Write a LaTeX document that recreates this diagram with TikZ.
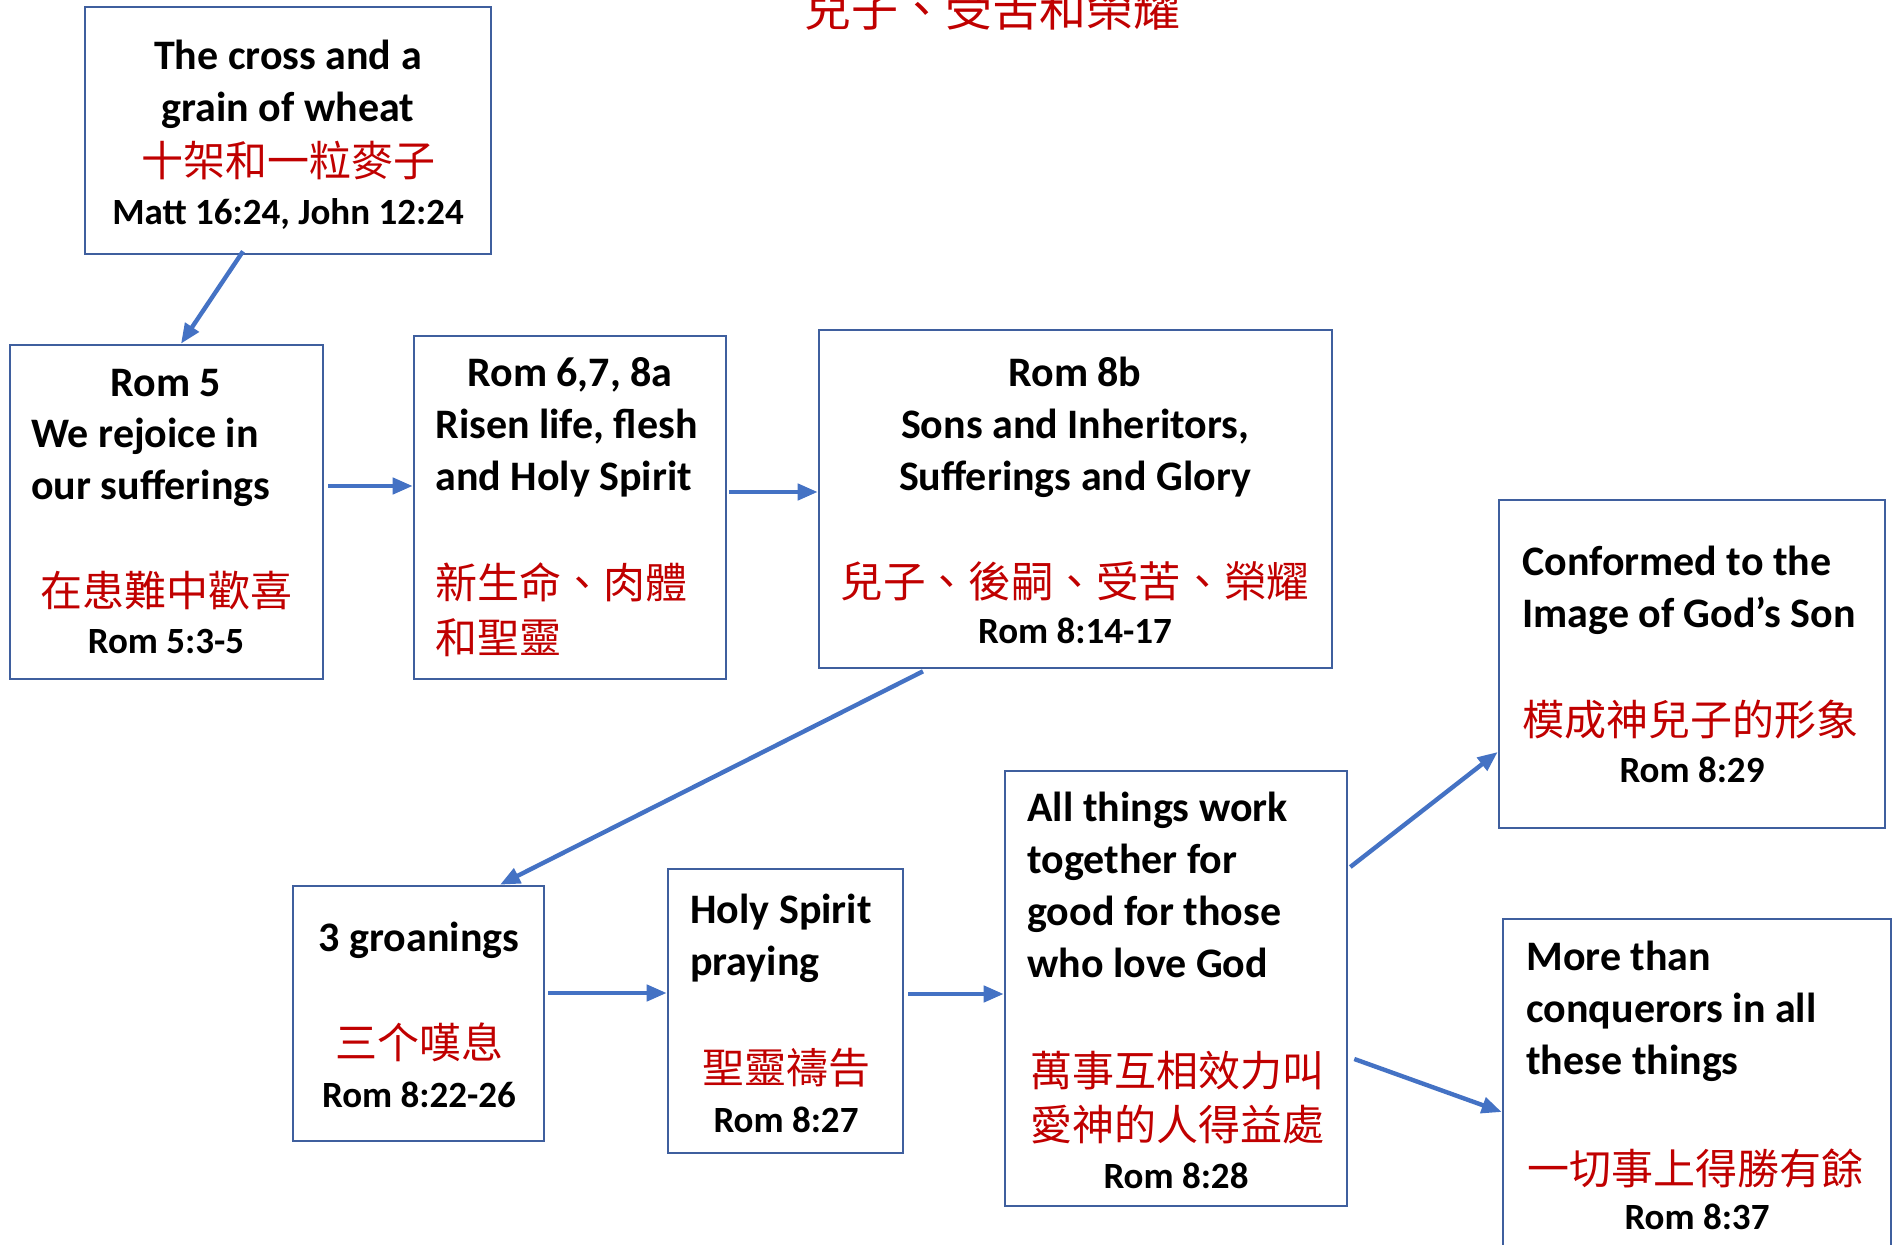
\documentclass[tikz,border=0pt]{standalone}
\usepackage{fontspec}
\setmainfont{Carlito}
\newfontfamily\cjk{Noto Sans CJK TC}
\usetikzlibrary{arrows.meta,fit,calc}
\definecolor{boxblue}{HTML}{3F5F9E}
\definecolor{arrblue}{HTML}{4472C4}
\definecolor{cred}{HTML}{C00000}
\tikzset{
 box/.style={draw=boxblue, line width=1.3pt, inner sep=0pt},
 en/.style={inner sep=0pt, anchor=base, font=\fontsize{21pt}{26pt}\selectfont\bfseries},
 enl/.style={en, anchor=base west},
 refs/.style={inner sep=0pt, anchor=base, font=\fontsize{18.5pt}{22pt}\selectfont\bfseries},
 zh/.style={inner sep=0pt, anchor=base, text=cred, font=\fontsize{21pt}{25pt}\selectfont\cjk},
 zhl/.style={zh, anchor=base west},
 arr/.style={draw=arrblue, line width=2.2pt, -{Triangle[length=10pt,width=8pt]}},
}
\begin{document}
\begin{tikzpicture}[x=0.5pt,y=-0.5pt]
\useasboundingbox (0,0) rectangle (1897,1245);
% title (cut off at top, as in the reference)
\node[zh, font=\fontsize{23.5pt}{27pt}\selectfont\cjk] (title) at (992,27) {兒子、受苦和榮耀};
% boxes
\node[box, fit={(85,7)(491,254)}] (cross) {};
\node[box, fit={(10,345)(323,679)}] (rom5) {};
\node[box, fit={(414,336)(726,679)}] (rom6) {};
\node[box, fit={(819,330)(1332,668)}] (rom8b) {};
\node[box, fit={(1499,500)(1885,828)}] (conf) {};
\node[box, fit={(293,886)(544,1141)}] (groan) {};
\node[box, fit={(668,869)(903,1153)}] (hsp) {};
\node[box, fit={(1005,771)(1347,1206)}] (allt) {};
\node[box, fit={(1503,919)(1891,1262)}] (more) {};
% cross box text
\node[en] (c1) at (288,70) {The cross and a};
\node[en] (c2) at (288,122) {grain of wheat};
\node[zh] (c3) at (288,177) {十架和一粒麥子};
\node[refs] (c4) at (288,225) {Matt 16:24, John 12:24};
% rom 5
\node[en] (r51) at (166,397) {Rom 5};
\node[enl] (r52) at (31,448) {We rejoice in};
\node[enl] (r53) at (31,500) {our sufferings};
\node[zh] (r54) at (166,607) {在患難中歡喜};
\node[refs] (r55) at (166,654) {Rom 5:3-5};
% rom 6
\node[en] (r61) at (570,387) {Rom 6,7, 8a};
\node[enl] (r62) at (435,439) {Risen life, flesh};
\node[enl] (r63) at (435,491) {and Holy Spirit};
\node[zhl] (r64) at (435,599) {新生命、肉體};
\node[zhl] (r65) at (435,654) {和聖靈};
% rom 8b
\node[en] (r81) at (1075,387) {Rom 8b};
\node[en] (r82) at (1075,439) {Sons and Inheritors,};
\node[en] (r83) at (1075,491) {Sufferings and Glory};
\node[zh, font=\fontsize{21.3pt}{26pt}\selectfont\cjk] (r84) at (1075,598) {兒子、後嗣、受苦、榮耀};
\node[refs] (r85) at (1075,644) {Rom 8:14-17};
% conformed
\node[enl] (cf1) at (1522,576) {Conformed to the};
\node[enl] (cf2) at (1522,628) {Image of God’s Son};
\node[zhl] (cf3) at (1522,736) {模成神兒子的形象};
\node[refs] (cf4) at (1692,783) {Rom 8:29};
% groanings
\node[en] (g1) at (419,951) {3 groanings};
\node[zh] (g2) at (419,1058) {三个嘆息};
\node[refs] (g3) at (419,1107) {Rom 8:22-26};
% holy spirit praying
\node[enl] (h1) at (690,923) {Holy Spirit};
\node[enl] (h2) at (690,975) {praying};
\node[zh] (h3) at (786,1083) {聖靈禱告};
\node[refs] (h4) at (786,1132) {Rom 8:27};
% all things
\node[enl] (a1) at (1027,821) {All things work};
\node[enl] (a2) at (1027,873) {together for};
\node[enl] (a3) at (1027,925) {good for those};
\node[enl] (a4) at (1027,977) {who love God};
\node[zhl] (a5) at (1030,1086) {萬事互相效力叫};
\node[zhl] (a6) at (1030,1140) {愛神的人得益處};
\node[refs] (a7) at (1176,1188) {Rom 8:28};
% more than conquerors
\node[enl] (m1) at (1526,970) {More than};
\node[enl] (m2) at (1526,1022) {conquerors in all};
\node[enl] (m3) at (1526,1074) {these things};
\node[zhl] (m4) at (1527,1184) {一切事上得勝有餘};
\node[refs] (m5) at (1697,1229) {Rom 8:37};
% connectors
\draw[arr] ([xshift=-22.5pt,yshift=2pt]cross.south) -- ([xshift=7.25pt]rom5.north);
\draw[arr] ([xshift=2pt,yshift=13pt]rom5.east) -- ([yshift=13pt]rom5.east -| rom6.west);
\draw[arr] ([xshift=1pt,yshift=7.75pt]rom6.east) -- ([yshift=7.75pt]rom6.east -| rom8b.west);
\draw[arr] ([xshift=-76.25pt,yshift=-1pt]rom8b.south) -- ([xshift=40.75pt]groan.north);
\draw[arr] ([xshift=1.5pt,yshift=10.25pt]groan.east) -- ([yshift=10.25pt]groan.east -| hsp.west);
\draw[arr] ([xshift=2pt,yshift=8.5pt]hsp.east) -- ([yshift=8.5pt]hsp.east -| allt.west);
\draw[arr] ([xshift=1pt,yshift=60.75pt]allt.east) -- ([yshift=-44pt]conf.west);
\draw[arr] ([xshift=3pt,yshift=-35.25pt]allt.east) -- ([yshift=-10.75pt]more.west);
\end{tikzpicture}
\end{document}
